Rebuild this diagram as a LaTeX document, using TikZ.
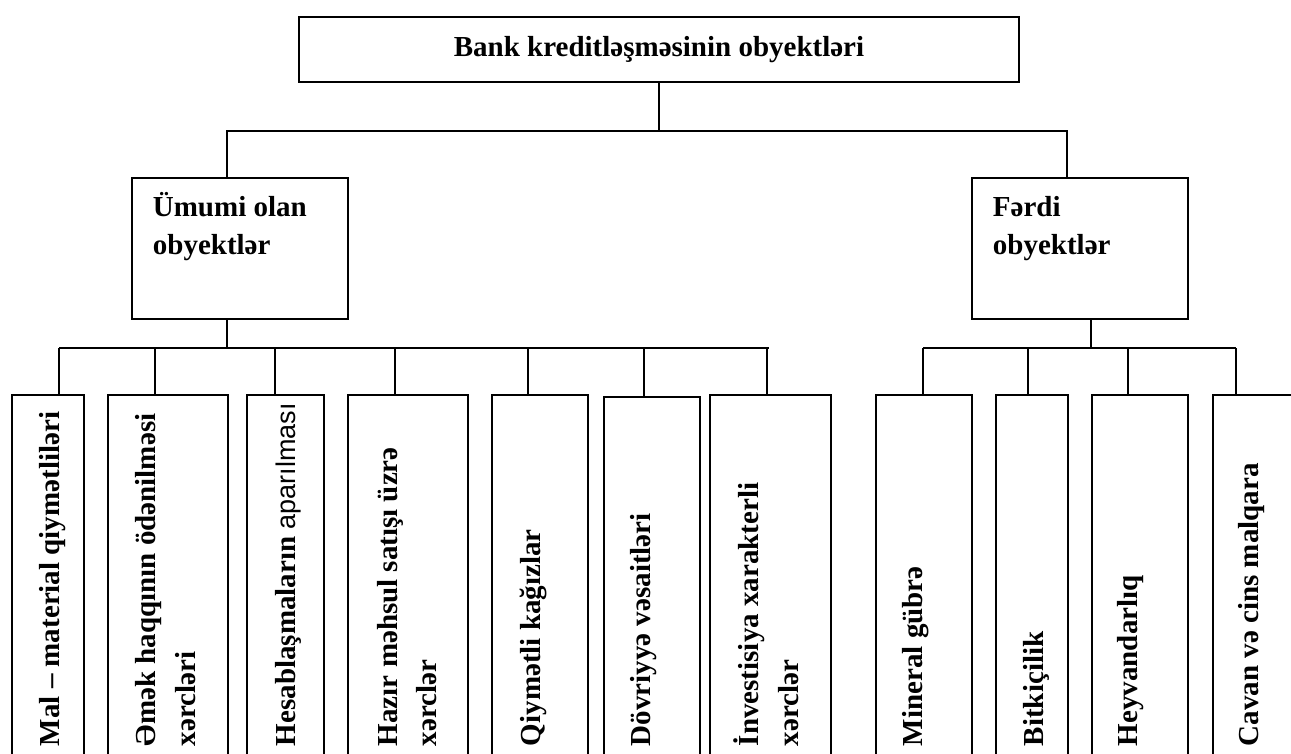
\documentclass[tikz,border=0pt]{standalone}
\usepackage{fontspec}
\setmainfont{Liberation Serif}
\newfontfamily\sansf{Liberation Sans}
\begin{document}
\begin{tikzpicture}[x=1pt,y=-1pt, line width=1.8pt,
  box/.style={draw, rectangle, inner sep=0pt},
  cbox/.style={box, minimum height=406, anchor=north west},
  txt/.style={font=\bfseries\fontsize{29}{38}\selectfont, inner sep=0pt},
  vt/.style={txt, rotate=90, anchor=base west},
  conn/.style={line width=1.8pt}]
\useasboundingbox (0,0) rectangle (1291,753);
\clip (0,0) rectangle (1291,753);

% top
\node[box, txt, minimum width=720, minimum height=65] (top) at (659,49.5) {Bank kreditləşməsinin obyektləri};

% second level
\node[box, minimum width=216, minimum height=141, anchor=north west] (um) at (131,177) {};
\node[box, minimum width=216, minimum height=141, anchor=north west] (fe) at (971,177) {};
\node[txt, anchor=base west] (um1) at (152,216) {Ümumi olan};
\node[txt, anchor=base west] (um2) at (152,254) {obyektlər};
\node[txt, anchor=base west] (fe1) at (992,216) {Fərdi};
\node[txt, anchor=base west] (fe2) at (992,254) {obyektlər};

% children boxes
\node[cbox, minimum width=72]  (c1) at (11,394) {};
\node[cbox, minimum width=120] (c2) at (107,394) {};
\node[cbox, minimum width=77]  (c3) at (246,394) {};
\node[cbox, minimum width=120] (c4) at (347,394) {};
\node[cbox, minimum width=96]  (c5) at (491,394) {};
\node[cbox, minimum width=96]  (c6) at (603,396) {};
\node[cbox, minimum width=121] (c7) at (709,394) {};
\node[cbox, minimum width=96]  (r1) at (875,394) {};
\node[cbox, minimum width=72]  (r2) at (995,394) {};
\node[cbox, minimum width=96]  (r3) at (1091,394) {};
\node[cbox, minimum width=96]  (r4) at (1212,394) {};

% rotated texts
\node[vt] (t1)  at (59,747)  {Mal – material qiymətliləri};
\node[vt] (t2a) at (155,747) {Əmək haqqının ödənilməsi};
\node[vt] (t2b) at (195,747) {xərcləri};
\node[vt] (t3)  at (295,747) {Hesablaşmaların {\sansf\mdseries\fontsize{27}{30}\selectfont aparılması}};
\node[vt] (t4a) at (397,747) {Hazır məhsul satışı üzrə};
\node[vt] (t4b) at (436,747) {xərclər};
\node[vt] (t5)  at (540,747) {Qiymətli kağızlar};
\node[vt] (t6)  at (650,747) {Dövriyyə vəsaitləri};
\node[vt] (t7a) at (758,747) {İnvestisiya xarakterli};
\node[vt] (t7b) at (798,747) {xərclər};
\node[vt] (s1)  at (922,747) {Mineral gübrə};
\node[vt] (s2)  at (1043,747) {Bitkiçilik};
\node[vt] (s3)  at (1137,747) {Heyvandarlıq};
\node[vt] (s4)  at (1258,747) {Cavan və cins malqara};

% connectors: top level
\coordinate (j0) at (659,131);
\coordinate (jl) at (227,131);
\coordinate (jr) at (1067,131);
\draw[conn] (top.south) -- (j0);
\draw[conn] (jl |- um.north) -- (jl) -- (jr) -- (jr |- fe.north);

% left group
\coordinate (ul) at (227,348);
\coordinate (d1) at (59,348);
\coordinate (d2) at (155,348);
\coordinate (d3) at (275,348);
\coordinate (d4) at (395,348);
\coordinate (d5) at (528,348);
\coordinate (d6) at (644,348);
\coordinate (d7) at (767,348);
\coordinate (dend) at (769,348);
\draw[conn] (ul |- um.south) -- (ul);
\draw[conn] (d1) -- (dend);
\foreach \i in {1,...,7} { \draw[conn] (d\i) -- (d\i |- c\i.north); }

% right group
\coordinate (fr) at (1091,348);
\coordinate (e1) at (923,348);
\coordinate (e2) at (1028,348);
\coordinate (e3) at (1128,348);
\coordinate (e4) at (1236,348);
\draw[conn] (fr |- fe.south) -- (fr);
\draw[conn] (e1) -- (e4);
\foreach \i in {1,...,4} { \draw[conn] (e\i) -- (e\i |- r\i.north); }
\end{tikzpicture}
\end{document}
